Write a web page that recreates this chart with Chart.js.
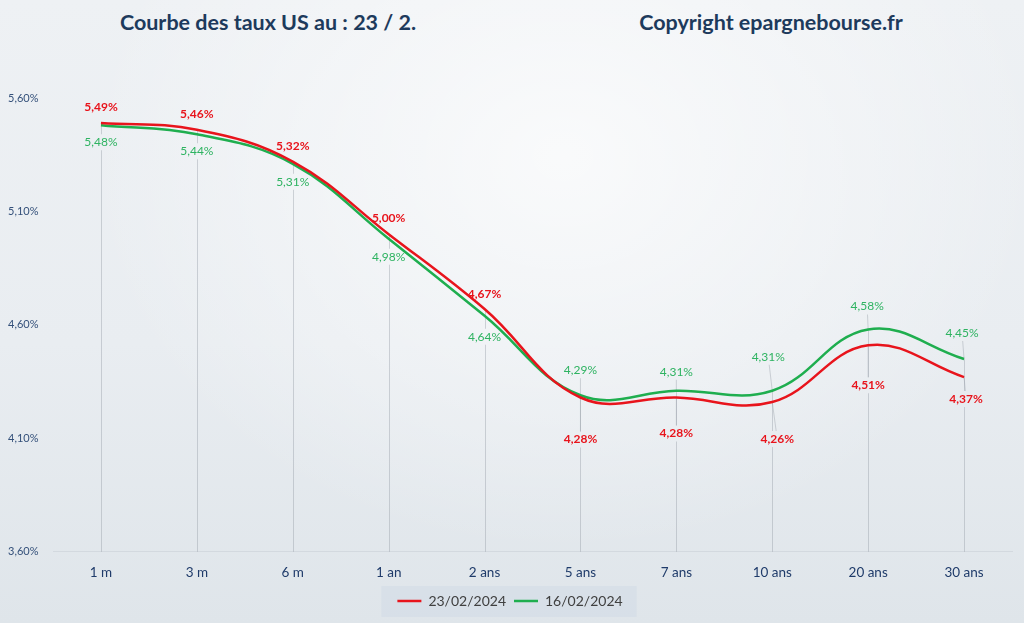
<!DOCTYPE html>
<html lang="fr">
<head>
<meta charset="utf-8">
<title>Courbe des taux US</title>
<script src="https://cdn.jsdelivr.net/npm/chart.js@4"></script>
<style>
  html, body { margin: 0; padding: 0; }
  body {
    width: 1024px; height: 623px; overflow: hidden; position: relative;
    background:
      radial-gradient(ellipse at 55% 25%, rgba(255,255,255,0.7), rgba(255,255,255,0) 60%),
      linear-gradient(180deg, #eef1f4 0%, #e9edf1 55%, #dfe5ea 100%);
    font-family: Lato, "Open Sans", sans-serif;
  }
  .title {
    position: absolute; top: 9px; font-weight: bold; font-size: 21.5px;
    color: #1d3a5c; white-space: nowrap; transform: translateX(-50%);
  }
  #wrap { position: absolute; left: 0; top: 0; width: 1024px; height: 623px; }
</style>
</head>
<body>
<div class="title" style="left:268px">Courbe des taux US au : 23 / 2.</div>
<div class="title" style="left:771px">Copyright epargnebourse.fr</div>
<div id="wrap"><canvas id="chart"></canvas></div>
<script>
const categories = ['1 m', '3 m', '6 m', '1 an', '2 ans', '5 ans', '7 ans', '10 ans', '20 ans', '30 ans'];
const rates2302 = [5.49, 5.46, 5.32, 5.00, 4.67, 4.28, 4.28, 4.26, 4.51, 4.37];
const rates1602 = [5.48, 5.44, 5.31, 4.98, 4.64, 4.29, 4.31, 4.31, 4.58, 4.45];
const yTicks = [3.6, 4.1, 4.6, 5.1, 5.6];

// label placement relative to the point: [dx, dy, leader line]
const redLabelPos = [[0,-16,false],[0,-16,false],[0,-15,false],[0,-16,false],[0,-15,false],[0,42,true],[0,36,true],[5,37,true],[0,40,true],[2,22,true]];
const greenLabelPos = [[0,17,false],[0,17,false],[0,18,false],[0,18,false],[0,21,false],[0,-25,true],[0,-19,true],[-4,-34,true],[-1,-23,true],[-2,-26,true]];

const RED = '#e8141c';
const GREEN = '#1fae4f';

function fmt(v) {
    return v.toFixed(2).replace('.', ',') + '%';
}

// drop lines + value labels
const labelPlugin = {
    id: 'valueLabels',
    labelBoxes(chart) {
        const ctx = chart.ctx;
        const boxes = [];
        const sets = [[0, redLabelPos, 'bold 12px Lato'], [1, greenLabelPos, '12px Lato']];
        sets.forEach(([di, pos, font]) => {
            const meta = chart.getDatasetMeta(di);
            const data = chart.data.datasets[di].data;
            ctx.font = font;
            meta.data.forEach((pt, i) => {
                const txt = fmt(data[i]);
                const w = ctx.measureText(txt).width;
                const cx = pt.x + pos[i][0];
                const cy = pt.y + pos[i][1];
                boxes.push({di, i, txt, font, cx, cy, w, pt, leader: pos[i][2],
                    x0: cx - w / 2 - 2, y0: cy - 8, x1: cx + w / 2 + 2, y1: cy + 8});
            });
        });
        return boxes;
    },
    beforeDatasetsDraw(chart) {
        const ctx = chart.ctx;
        const area = chart.chartArea;
        const boxes = this.labelBoxes(chart);
        ctx.save();
        ctx.beginPath();
        ctx.rect(0, 0, chart.width, chart.height);
        boxes.forEach(b => ctx.rect(b.x0, b.y0, b.x1 - b.x0, b.y1 - b.y0));
        ctx.clip('evenodd');
        ctx.strokeStyle = 'rgba(150,158,166,0.42)';
        ctx.lineWidth = 1;
        const m0 = chart.getDatasetMeta(0).data;
        const m1 = chart.getDatasetMeta(1).data;
        m0.forEach((p, i) => {
            const x = Math.round(p.x) + 0.5;
            const top = Math.min(p.y, m1[i].y);
            ctx.beginPath();
            ctx.moveTo(x, top);
            ctx.lineTo(x, area.bottom);
            ctx.stroke();
        });
        boxes.forEach(b => {
            if (!b.leader) return;
            ctx.beginPath();
            ctx.moveTo(b.cx, b.cy);
            ctx.lineTo(b.pt.x, b.pt.y);
            ctx.stroke();
        });
        ctx.restore();
    },
    afterDatasetsDraw(chart) {
        const ctx = chart.ctx;
        const boxes = this.labelBoxes(chart);
        ctx.save();
        ctx.textAlign = 'center';
        ctx.textBaseline = 'middle';
        boxes.forEach(b => {
            ctx.font = b.font;
            ctx.fillStyle = b.di === 0 ? RED : '#2eb361';
            ctx.fillText(b.txt, b.cx, b.cy);
        });
        ctx.restore();
    }
};

// soft box behind the legend
const legendBox = {
    id: 'legendBox',
    beforeDraw(chart) {
        const hb = chart.legend.legendHitBoxes;
        if (!hb || !hb.length) return;
        const left = Math.min(...hb.map(h => h.left)) - 16;
        const right = Math.max(...hb.map(h => h.left + h.width)) + 14;
        const ctx = chart.ctx;
        ctx.save();
        ctx.fillStyle = 'rgba(208,218,230,0.5)';
        ctx.fillRect(left, 586, right - left, 31);
        ctx.restore();
    }
};

new Chart(document.getElementById('chart'), {
    type: 'line',
    data: {
        labels: categories,
        datasets: [{
            label: '23/02/2024',
            data: rates2302,
            borderColor: RED,
            backgroundColor: RED,
            borderWidth: 2.5,
            pointRadius: 0,
            tension: 0.4
        }, {
            label: '16/02/2024',
            data: rates1602,
            borderColor: GREEN,
            backgroundColor: GREEN,
            borderWidth: 2.5,
            pointRadius: 0,
            tension: 0.4
        }]
    },
    options: {
        responsive: true,
        maintainAspectRatio: false,
        animation: false,
        layout: { padding: { left: 8, right: 12, top: 98, bottom: 5 } },
        scales: {
            x: {
                offset: true,
                grid: { display: false },
                border: { color: '#d3d9df', width: 1 },
                ticks: { color: '#1f3b6a', font: { family: 'Lato', size: 13.5 }, padding: 5 }
            },
            y: {
                min: 3.6,
                max: 5.6,
                afterBuildTicks: axis => { axis.ticks = yTicks.map(v => ({ value: v })); },
                afterFit: axis => { axis.width = 45; },
                grid: { display: false },
                border: { display: false },
                ticks: {
                    crossAlign: 'far',
                    color: '#34507a',
                    font: { family: 'Lato', size: 11 },
                    callback: v => v.toFixed(2).replace('.', ',') + '%'
                }
            }
        },
        plugins: {
            legend: {
                position: 'bottom',
                labels: {
                    usePointStyle: true,
                    pointStyle: 'line',
                    pointStyleWidth: 24,
                    color: '#404040',
                    font: { family: 'Lato', size: 14 },
                    padding: 8
                }
            },
            title: { display: false },
            tooltip: { enabled: false }
        }
    },
    plugins: [labelPlugin, legendBox]
});
</script>
</body>
</html>
